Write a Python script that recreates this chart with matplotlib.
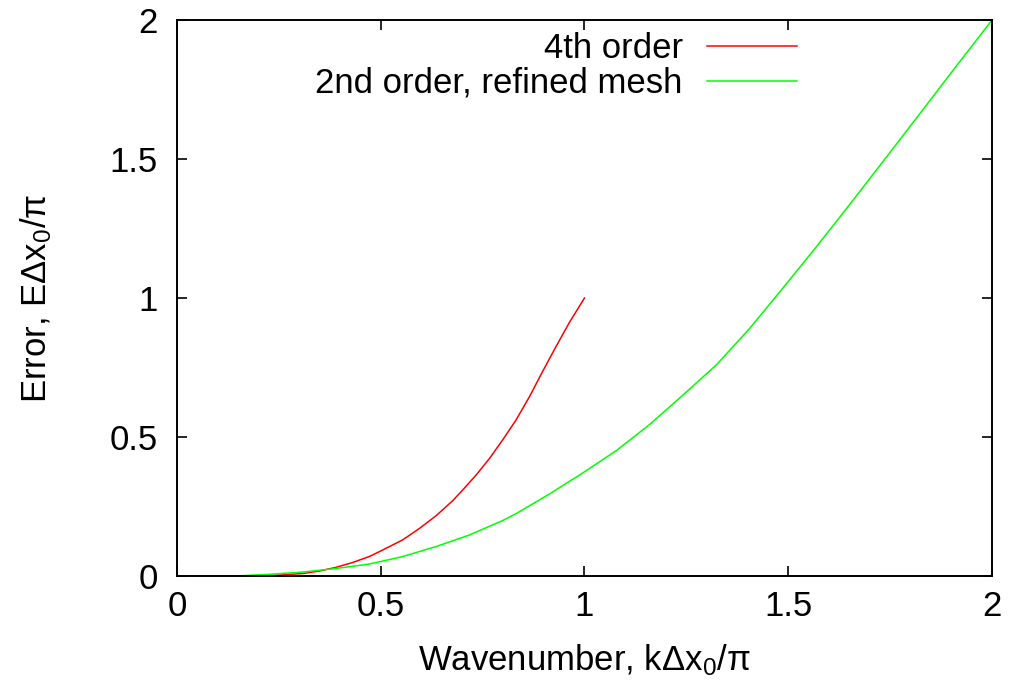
import matplotlib
matplotlib.use("Agg")
import matplotlib.pyplot as plt

plt.rcParams['font.family'] = ['Liberation Sans', 'DejaVu Sans']
plt.rcParams['mathtext.fontset'] = 'custom'
plt.rcParams['mathtext.rm'] = 'Liberation Sans'
plt.rcParams['mathtext.it'] = 'Liberation Sans:italic'

# values
k4 = [0, 0.15, 0.25, 0.31, 0.35, 0.39, 0.43, 0.472, 0.5, 0.554, 0.595, 0.636,
      0.676, 0.701, 0.734, 0.767, 0.799, 0.832, 0.865, 0.897, 0.93, 0.963, 1.0]
err4 = [0, 0.0, 0.003, 0.009, 0.018, 0.031, 0.048, 0.07, 0.09, 0.13, 0.171, 0.217,
        0.27, 0.309, 0.363, 0.423, 0.489, 0.561, 0.645, 0.735, 0.825, 0.912, 1.0]

k2 = [0, 0.144, 0.226, 0.308, 0.39, 0.472, 0.5, 0.554, 0.636, 0.717, 0.8, 0.833,
      0.914, 0.995, 1.079, 1.16, 1.241, 1.324, 1.405, 1.487, 1.57, 1.65, 1.732,
      1.815, 1.897, 2.0]
err2 = [0, 0.0, 0.006, 0.014, 0.027, 0.043, 0.052, 0.07, 0.106, 0.147, 0.2, 0.225,
        0.295, 0.37, 0.452, 0.545, 0.65, 0.76, 0.89, 1.036, 1.186, 1.335, 1.49,
        1.648, 1.805, 2.0]

ticks = [0, 0.5, 1, 1.5, 2]
tick_labels = ['0', '0.5', '1', '1.5', '2']

fig = plt.figure(figsize=(10.1, 6.88), dpi=100)
ax = fig.add_axes([0.1752, 0.1628, 0.807, 0.8081])

ax.plot(k4, err4, color='#ff0000', lw=1.1, label='4th order')
ax.plot(k2, err2, color='#00ff00', lw=1.1, label='2nd order, refined mesh')

ax.set_xlim(0, 2)
ax.set_ylim(0, 2)
ax.set_xticks(ticks)
ax.set_xticklabels(tick_labels)
ax.set_yticks(ticks)
ax.set_yticklabels(tick_labels)
ax.tick_params(axis='both', direction='in', length=7, width=1.2, labelsize=25,
               top=True, right=True)
ax.tick_params(axis='x', pad=10)
ax.tick_params(axis='y', pad=14)
for s in ax.spines.values():
    s.set_linewidth(1.4)

ax.set_xlabel(r'Wavenumber, kΔx$_{\rm 0}$/π', fontsize=25, labelpad=14)
ax.set_ylabel(r'Error, EΔx$_{\rm 0}$/π', fontsize=25, labelpad=40)

ax.legend(loc='upper right', bbox_to_anchor=(0.761, 0.978), frameon=False,
          markerfirst=False, fontsize=25, handlelength=2.6, handletextpad=0.7,
          borderpad=0, borderaxespad=0, labelspacing=0.05)

fig.savefig('out.png', dpi=100)
